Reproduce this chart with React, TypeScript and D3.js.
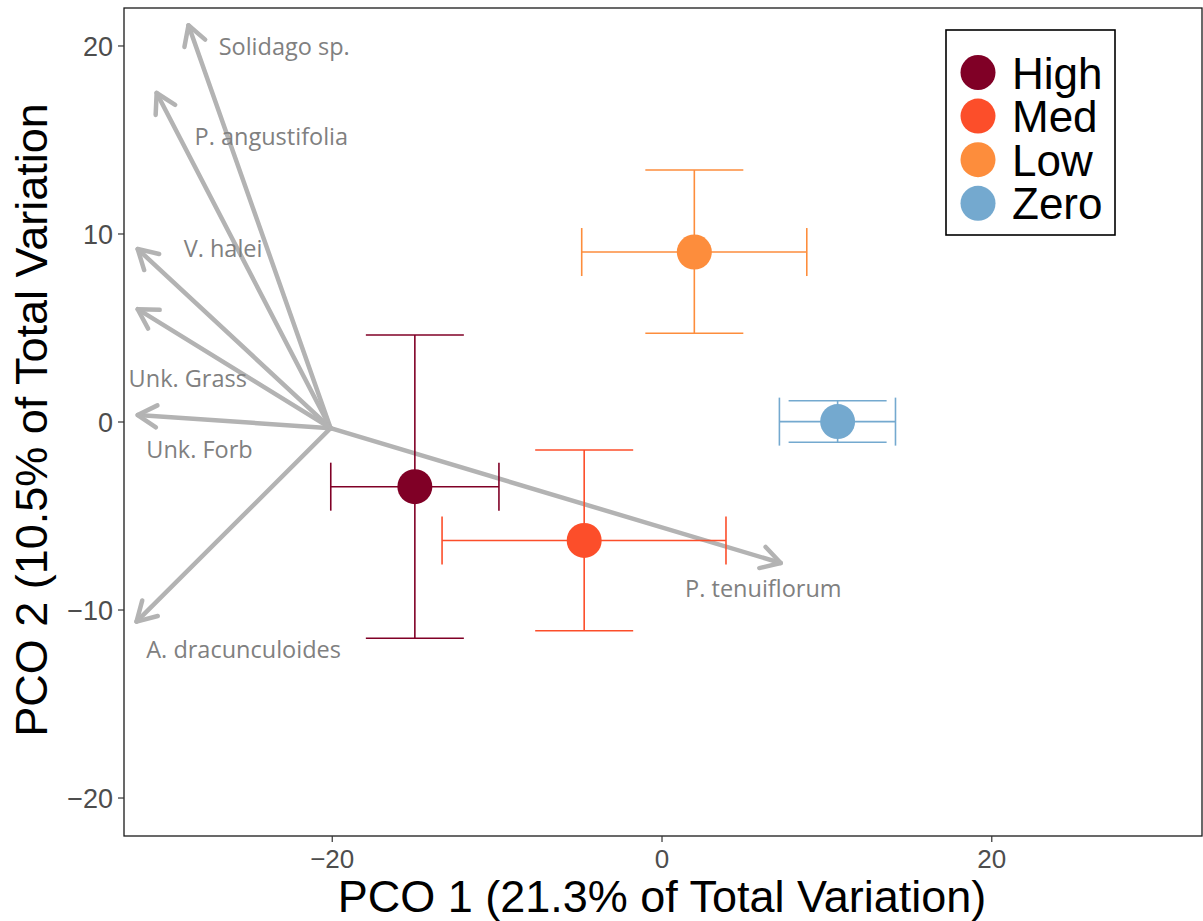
import React from "react";
import * as d3 from "d3";

// Group centroids on the first two principal coordinates, with error extents
const groups = ["High", "Med", "Low", "Zero"];
const groupColors = ["#800026", "#fc4e2a", "#fd8d3c", "#74a9cf"];
const pco1Mean = [-14.99, -4.72, 1.96, 10.65];
const pco1Lo = [-20.09, -13.34, -4.87, 7.12];
const pco1Hi = [-9.89, 3.88, 8.78, 14.16];
const pco2Mean = [-3.44, -6.3, 9.04, 0.02];
const pco2Lo = [-11.5, -11.1, 4.72, -1.08];
const pco2Hi = [4.63, -1.49, 13.4, 1.13];

// Species vectors (biplot arrows) and their labels
const vectorOrigin = [-20.1, -0.33];
const species = [
  "Solidago sp.",
  "P. angustifolia",
  "V. halei",
  "Unk. Grass",
  "Unk. Forb",
  "A. dracunculoides",
  "P. tenuiflorum",
];
const vectorX = [-28.72, -30.65, -31.8, -31.8, -31.8, -31.87, 7.2];
const vectorY = [21.1, 17.5, 9.2, 6.0, 0.37, -10.62, -7.5];
const labelX = [-26.89, -28.35, -29.01, -32.35, -31.28, -31.28, 1.4];
const labelY = [19.54, 14.72, 8.76, 1.85, -1.89, -12.57, -9.31];

const xTicks = [-20, 0, 20];
const yTicks = [-20, -10, 0, 10, 20];

const W = 1203;
const H = 921;
const panel = { left: 124, right: 1202, top: 8, bottom: 836 };

export default function App() {
  const x = d3.scaleLinear().domain([-32.63, 32.75]).range([panel.left, panel.right]);
  const y = d3.scaleLinear().domain([-22.02, 22.02]).range([panel.bottom, panel.top]);

  const fmt = (v: number) => (v < 0 ? "\u2212" + Math.abs(v) : String(v));
  const arrowGray = "#b3b3b3";
  const headLen = 22;
  const headAng = Math.PI / 6;
  const capH = 24; // half-height of caps on horizontal bars
  const capW = 49; // half-width of caps on vertical bars

  const ox = x(vectorOrigin[0]);
  const oy = y(vectorOrigin[1]);

  return (
    <svg
      width={W}
      height={H}
      style={{ position: "absolute", left: 0, top: 0, background: "#fff" }}
      fontFamily="'Liberation Sans', Arial, Helvetica, sans-serif"
    >
      <rect x={0} y={0} width={W} height={H} fill="#fff" />
      <clipPath id="panelClip">
        <rect x={panel.left} y={panel.top} width={panel.right - panel.left} height={panel.bottom - panel.top} />
      </clipPath>

      <g clipPath="url(#panelClip)">
        {/* species vectors */}
        {species.map((s, i) => {
          const tx = x(vectorX[i]);
          const ty = y(vectorY[i]);
          const a = Math.atan2(ty - oy, tx - ox);
          const p1 = [tx - headLen * Math.cos(a - headAng), ty - headLen * Math.sin(a - headAng)];
          const p2 = [tx - headLen * Math.cos(a + headAng), ty - headLen * Math.sin(a + headAng)];
          return (
            <g key={s} stroke={arrowGray} strokeWidth={4.5} fill="none" strokeLinecap="round" strokeLinejoin="round">
              <line x1={ox} y1={oy} x2={tx} y2={ty} />
              <polyline points={`${p1[0]},${p1[1]} ${tx},${ty} ${p2[0]},${p2[1]}`} />
            </g>
          );
        })}
        {species.map((s, i) => (
          <text
            key={s + "-lab"}
            x={x(labelX[i])}
            y={y(labelY[i])}
            fontFamily="'Open Sans', sans-serif"
            fontSize={23.5}
            fill="#808080"
          >
            {s}
          </text>
        ))}

        {/* group error bars and centroids */}
        {groups.map((g, i) => {
          const c = groupColors[i];
          const cx = x(pco1Mean[i]);
          const cy = y(pco2Mean[i]);
          const xl = x(pco1Lo[i]);
          const xh = x(pco1Hi[i]);
          const yl = y(pco2Lo[i]);
          const yh = y(pco2Hi[i]);
          return (
            <g key={g} stroke={c} strokeWidth={1.6} fill="none">
              <line x1={xl} y1={cy} x2={xh} y2={cy} />
              <line x1={xl} y1={cy - capH} x2={xl} y2={cy + capH} />
              <line x1={xh} y1={cy - capH} x2={xh} y2={cy + capH} />
              <line x1={cx} y1={yl} x2={cx} y2={yh} />
              <line x1={cx - capW} y1={yl} x2={cx + capW} y2={yl} />
              <line x1={cx - capW} y1={yh} x2={cx + capW} y2={yh} />
              <circle cx={cx} cy={cy} r={17.5} fill={c} stroke="none" />
            </g>
          );
        })}
      </g>

      {/* panel border */}
      <rect
        x={panel.left}
        y={panel.top}
        width={panel.right - panel.left}
        height={panel.bottom - panel.top}
        fill="none"
        stroke="#1a1a1a"
        strokeWidth={1.3}
      />

      {/* y axis */}
      {yTicks.map((t) => (
        <g key={"y" + t}>
          <line x1={panel.left - 6} x2={panel.left} y1={y(t)} y2={y(t)} stroke="#333" strokeWidth={1.2} />
          <text x={113} y={y(t)} dy="0.36em" textAnchor="end" fontSize={27} fill="#4d4d4d">
            {fmt(t)}
          </text>
        </g>
      ))}
      {/* x axis */}
      {xTicks.map((t) => (
        <g key={"x" + t}>
          <line x1={x(t)} x2={x(t)} y1={panel.bottom} y2={panel.bottom + 6} stroke="#333" strokeWidth={1.2} />
          <text x={x(t)} y={868} textAnchor="middle" fontSize={26} fill="#4d4d4d">
            {fmt(t)}
          </text>
        </g>
      ))}

      <text x={662} y={912} textAnchor="middle" fontSize={45} fill="#000">
        PCO 1 (21.3% of Total Variation)
      </text>
      <text
        transform={`translate(47,420) rotate(-90)`}
        textAnchor="middle"
        fontSize={45}
        fill="#000"
      >
        PCO 2 (10.5% of Total Variation
      </text>

      {/* legend */}
      <rect x={946} y={30} width={169} height={205} fill="#fff" stroke="#000" strokeWidth={1.6} />
      {groups.map((g, i) => (
        <g key={"leg" + g} transform={`translate(978,${72.5 + i * 43.6})`}>
          <circle r={17.5} fill={groupColors[i]} />
          <text x={34} y={16} fontSize={44} fill="#000">
            {g}
          </text>
        </g>
      ))}
    </svg>
  );
}
